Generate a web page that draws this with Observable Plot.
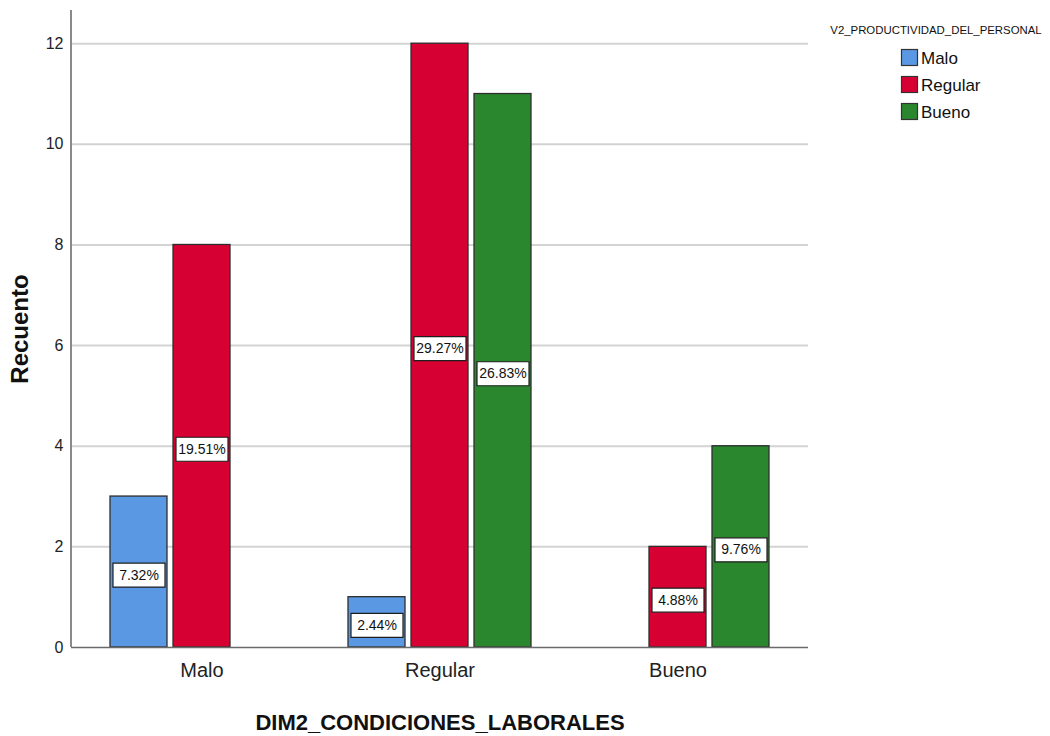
<!DOCTYPE html>
<html>
<head>
<meta charset="utf-8">
<script src="https://cdn.jsdelivr.net/npm/d3@7"></script>
<script src="https://cdn.jsdelivr.net/npm/@observablehq/plot@0.6"></script>
<style>
  body { margin: 0; background: #fff; }
  #wrap { position: relative; width: 1050px; height: 736px; }
</style>
</head>
<body>
<div id="wrap"></div>
<script>
// DIM2_CONDICIONES_LABORALES categories (x groups)
const groups = ["Malo", "Regular", "Bueno"];
// V2_PRODUCTIVIDAD_DEL_PERSONAL categories (bars inside each group)
const series = ["Malo", "Regular", "Bueno"];
const seriesColors = ["#5b98e4", "#d70032", "#2a872e"];

// Counts per V2 category, ordered like `groups`
const prodMalo = [3, 1, 0];
const prodRegular = [8, 12, 2];
const prodBueno = [0, 11, 4];

const yTicks = [0, 2, 4, 6, 8, 10, 12];

const xTitle = "DIM2_CONDICIONES_LABORALES";
const yTitle = "Recuento";
const legendTitle = "V2_PRODUCTIVIDAD_DEL_PERSONAL";

const FONT = "'Liberation Sans', Arial, sans-serif";

const W = 1050, H = 736, mL = 71, mR = 242, mT = 10, mB = 89;
const padIn = 0.206, padOut = 0.151;

const countsBySeries = [prodMalo, prodRegular, prodBueno];
const rows = [];
series.forEach((s, j) => groups.forEach((g, i) => rows.push({group: g, series: s, count: countsBySeries[j][i]})));
const total = d3.sum(rows, d => d.count);
const pct = c => (c / total * 100).toFixed(2) + "%";

// Group band and the sub-band for each series within it
const xb = d3.scaleBand(groups, [mL, W - mR]).paddingInner(padIn).paddingOuter(padOut);
const bw = xb.bandwidth();
const sub = d3.scaleBand(series, [0, bw]).paddingInner(6 / 63).paddingOuter(3 / 63);

// Box drawn behind each percentage label
const labelBox = {draw(ctx) { ctx.rect(-26, -12, 52, 24); }};

const seriesMarks = series.flatMap(s => {
  const data = rows.filter(d => d.series === s && d.count > 0);
  const left = sub(s), right = bw - sub(s) - sub.bandwidth();
  const off = sub(s) + sub.bandwidth() / 2 - bw / 2;
  return [
    Plot.barY(data, {x: "group", y: "count", fill: "series", stroke: "#2e2e2e", strokeWidth: 1.3, insetLeft: left, insetRight: right}),
    Plot.dot(data, {x: "group", y: d => d.count / 2, dx: off, dy: 3, symbol: labelBox, fill: "white", stroke: "#1e1e1e", strokeWidth: 1.2}),
    Plot.text(data, {x: "group", y: d => d.count / 2, dx: off, dy: 3, text: d => pct(d.count), fontSize: 14, fontFamily: FONT, fill: "#111"})
  ];
});

const chart = Plot.plot({
  width: W, height: H,
  marginLeft: mL, marginRight: mR, marginTop: mT, marginBottom: mB,
  style: {background: "#fff", color: "#222", fontFamily: FONT, overflow: "visible"},
  x: {domain: groups, paddingInner: padIn, paddingOuter: padOut, axis: null},
  y: {domain: [0, 12.66], axis: null},
  color: {domain: series, range: seriesColors},
  marks: [
    Plot.ruleY(yTicks.filter(t => t > 0), {stroke: "#d3d3d3", strokeWidth: 2}),
    ...seriesMarks,
    Plot.ruleY([0], {stroke: "#6a6a6a", strokeWidth: 1.5}),
    Plot.axisY({ticks: yTicks, tickSize: 0, tickPadding: 8, fontSize: 16, fontFamily: FONT, label: null, fill: "#222"}),
    Plot.axisX({tickSize: 0, tickPadding: 15, fontSize: 20, fontFamily: FONT, label: null, fill: "#222"}),
    Plot.text([xTitle], {frameAnchor: "bottom", lineAnchor: "middle", dy: 75, fontSize: 22, fontWeight: "bold", fontFamily: FONT, fill: "#111"}),
    Plot.text([yTitle], {frameAnchor: "left", textAnchor: "middle", dx: -51, rotate: -90, fontSize: 24, fontWeight: "bold", fontFamily: FONT, fill: "#111"})
  ]
});

// Left axis line
const ys = chart.scale("y");
d3.select(chart).append("line")
  .attr("x1", mL).attr("x2", mL)
  .attr("y1", ys.apply(12.66)).attr("y2", ys.apply(0))
  .attr("stroke", "#8a8a8a").attr("stroke-width", 2);

const wrap = document.getElementById("wrap");
wrap.appendChild(chart);

// Legend, top right
const cs = chart.scale("color");
const lg = d3.create("svg").attr("width", W).attr("height", 140)
  .style("position", "absolute").style("left", "0px").style("top", "0px").style("pointer-events", "none");
lg.append("text").attr("x", 936).attr("y", 34).attr("text-anchor", "middle")
  .attr("font-family", FONT).attr("font-size", 11.4).attr("fill", "#111").text(legendTitle);
cs.domain.forEach((s, i) => {
  const y0 = 49 + i * 27;
  lg.append("rect").attr("x", 901.5).attr("y", y0 + 0.5).attr("width", 16).attr("height", 16)
    .attr("fill", cs.apply(s)).attr("stroke", "#333").attr("stroke-width", 1.2);
  lg.append("text").attr("x", 921).attr("y", y0 + 15).attr("font-family", FONT)
    .attr("font-size", 17).attr("fill", "#111").text(s);
});
wrap.appendChild(lg.node());
</script>
</body>
</html>
